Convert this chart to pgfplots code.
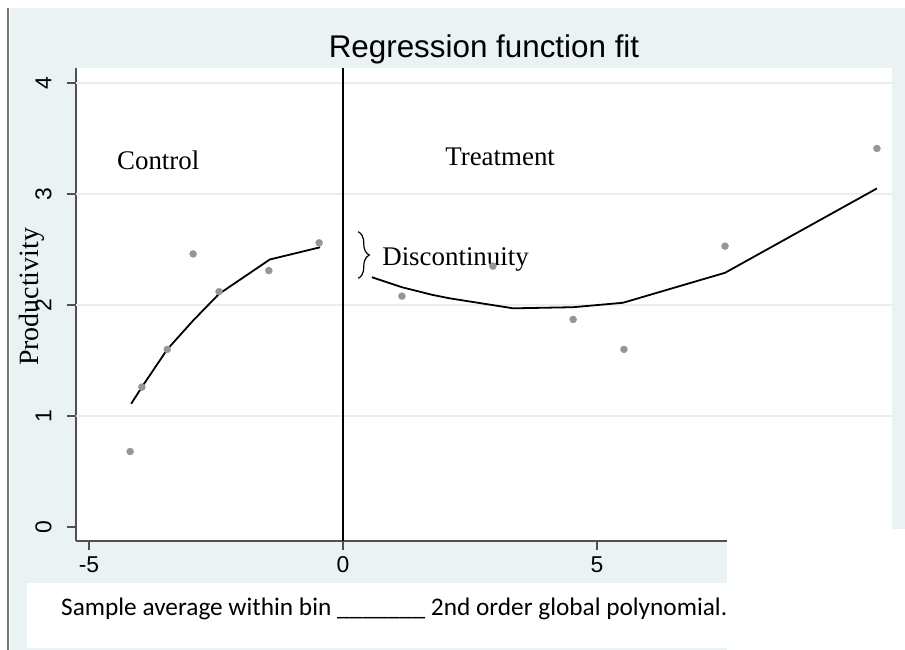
\documentclass[border=0pt]{standalone}
\usepackage{fontspec}
\setmainfont{Liberation Serif}
\newfontfamily\arialf{Liberation Sans}
\newfontfamily\calib{Carlito}
\usepackage{pgfplots}
\pgfplotsset{compat=1.18}
\usetikzlibrary{decorations.pathreplacing}
\definecolor{statabg}{RGB}{234,242,243}
\definecolor{gridc}{RGB}{230,238,240}
\definecolor{axisc}{RGB}{80,80,80}
\definecolor{dotc}{RGB}{150,150,150}
\definecolor{borderc}{RGB}{120,120,120}

\begin{document}
\begin{tikzpicture}[x=1bp, y=1bp]
\useasboundingbox (0,0) rectangle (905,650);
\fill[white] (0,0) rectangle (905,650);
% stata background
\fill[statabg] (10,0) rectangle (905,642);
\draw[borderc, line width=2bp] (8,0) -- (8,642);

\begin{axis}[
  at={(76bp,109bp)}, anchor=south west,
  scale only axis, width=816bp, height=473bp,
  xmin=-5.256, xmax=10.807, ymin=-0.126, ymax=4.135,
  axis x line=bottom, axis y line=left,
  axis line style={-, axisc, line width=1.4bp},
  axis background/.style={fill=white},
  xtick={-5,0,5}, xticklabels={-5,0,5},
  ytick={0,1,2,3,4}, yticklabels={0,1,2,3,4},
  extra y ticks={1,2,3,4}, extra y tick labels={},
  extra y tick style={grid=major, major tick length=0pt},
  grid style={gridc, line width=1.2bp},
  tick align=outside, major tick length=9bp,
  tick style={axisc, line width=1.2bp},
  tick label style={font=\arialf\fontsize{23}{23}\selectfont},
  yticklabel style={xshift=-12bp, rotate=90, anchor=south},
  xticklabel shift=3bp,
  clip=false,
]
\addplot[black, line width=2bp] coordinates {(0,-0.126) (0,4.135)};

\addplot[only marks, mark=*, mark size=3.5bp, dotc] coordinates {
  (-4.19,0.68) (-3.96,1.26) (-3.46,1.60) (-2.95,2.46) (-2.44,2.12) (-1.46,2.31) (-0.47,2.56)
};
\addplot[only marks, mark=*, mark size=3.5bp, dotc] coordinates {
  (1.16,2.08) (2.95,2.35) (4.53,1.87) (5.53,1.60) (7.52,2.53) (10.51,3.41)
};
\addplot[black, line width=1.8bp] coordinates {
  (-4.17,1.11) (-3.96,1.26) (-3.46,1.60) (-2.95,1.86) (-2.44,2.10) (-1.44,2.41) (-0.45,2.52)
};
\addplot[black, line width=1.8bp] coordinates {
  (0.57,2.25) (1.16,2.16) (1.77,2.09) (2.10,2.06) (3.35,1.97) (4.53,1.98) (5.51,2.02) (7.52,2.29) (10.51,3.05)
};

\node[anchor=base west, font=\fontsize{27}{27}\selectfont, inner sep=0pt] at (axis cs:-4.45,3.225) {Control};
\node[anchor=base west, font=\fontsize{27}{27}\selectfont, inner sep=0pt] at (axis cs:2.01,3.26) {Treatment};
\node[anchor=base west, font=\fontsize{27}{27}\selectfont, inner sep=0pt] at (axis cs:0.77,2.36) {Discontinuity};
\draw[decorate, decoration={brace, amplitude=11bp}, line width=1.2bp] (axis cs:0.30,2.66) -- (axis cs:0.30,2.24);
\end{axis}

% white overlay of the slide
\fill[white] (727,0) rectangle (905,121);
\fill[white] (27,2) rectangle (727,67);

\node[anchor=base, font=\arialf\fontsize{31.5}{31.5}\selectfont, inner sep=0pt] at (484,592) {Regression function fit};
\node[rotate=90, font=\fontsize{28}{28}\selectfont, inner sep=0pt] at (32,353) {Productivity};
\node[anchor=base west, font=\calib\fontsize{25.4}{25.4}\selectfont, inner sep=0pt] at (61,34)
  {Sample average within bin \textunderscore\textunderscore\textunderscore\textunderscore\textunderscore\textunderscore\textunderscore{} 2nd order global polynomial.};
\end{tikzpicture}
\end{document}
